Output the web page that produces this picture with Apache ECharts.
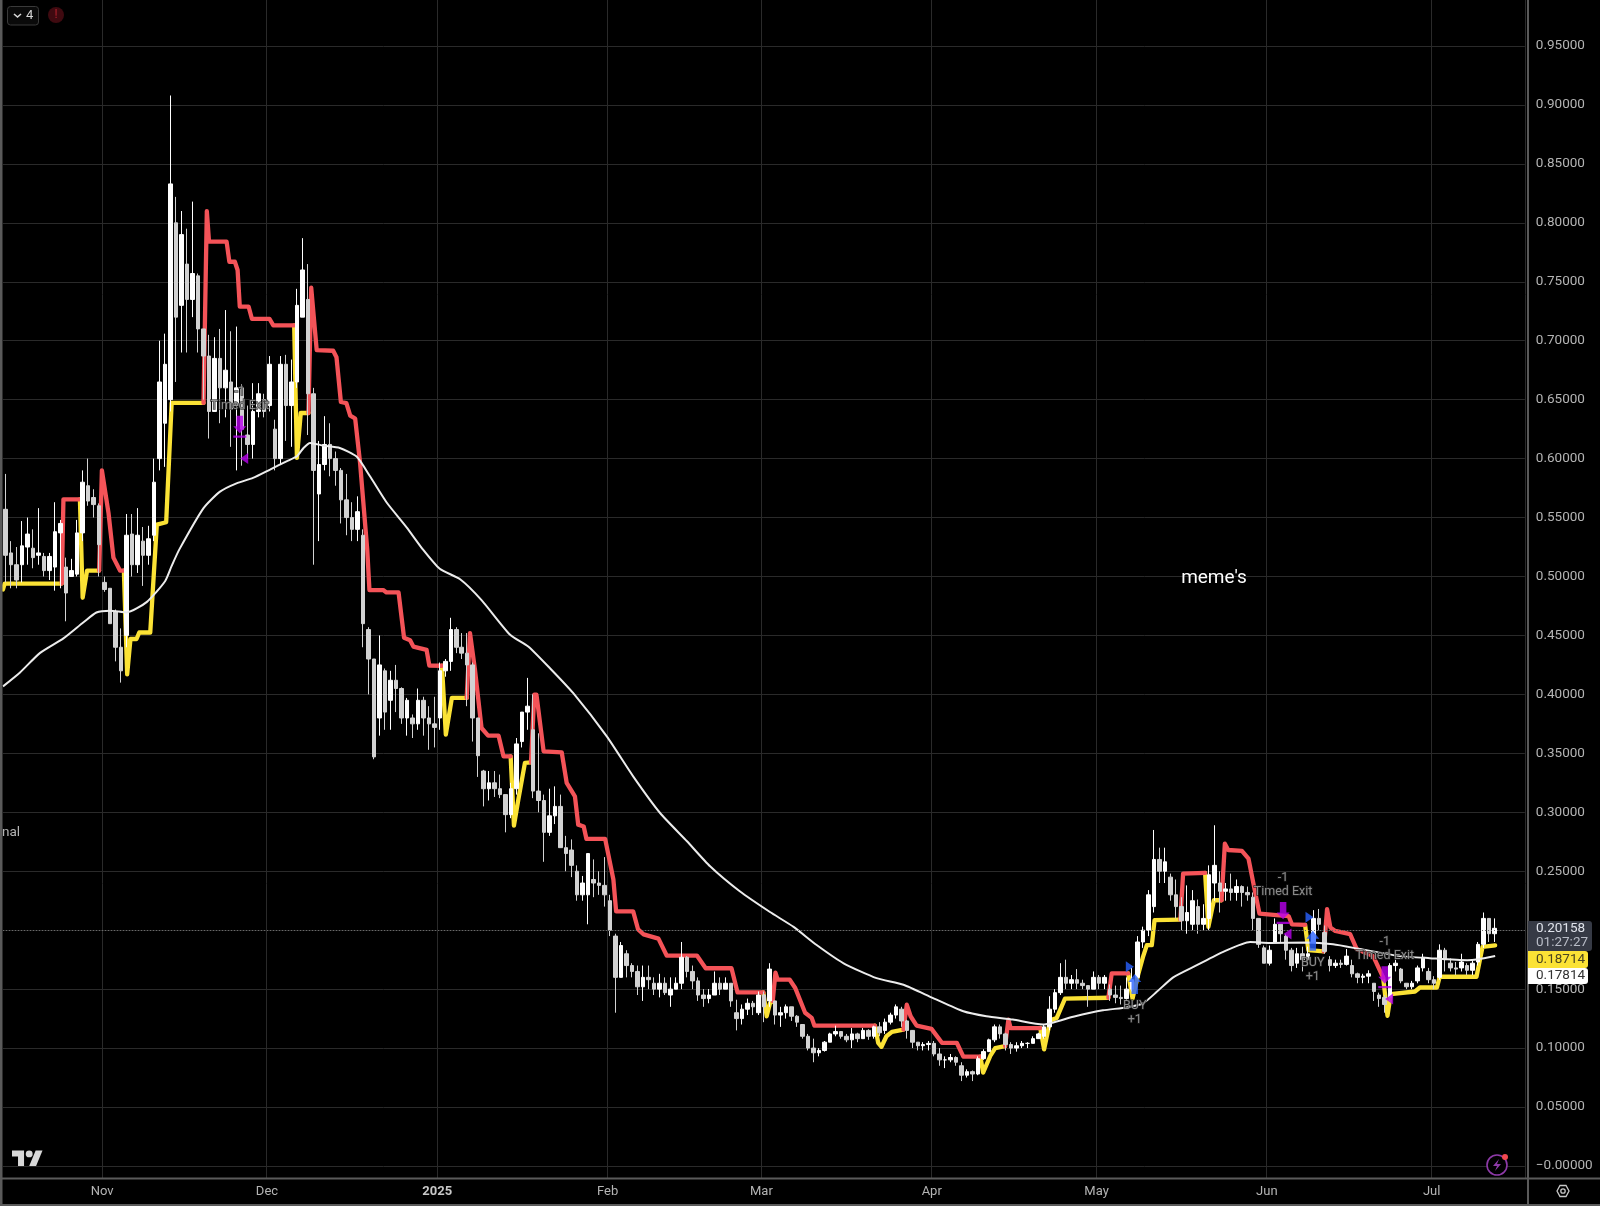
<!DOCTYPE html>
<html><head><meta charset="utf-8">
<style>html,body{margin:0;padding:0;background:#000}#c{width:1600px;height:1206px}</style>
<script src="https://cdn.jsdelivr.net/npm/echarts@6/dist/echarts.min.js"></script>
</head><body><div id="c"></div>
<script>
// tick labels
const tickDays=[18,48,79,110,138,169,199,230,260];
const tickNames=['Nov','Dec','2025','Feb','Mar','Apr','May','Jun','Jul'];
const priceTicks=[0,.05,.1,.15,.2,.25,.3,.35,.4,.45,.5,.55,.6,.65,.7,.75,.8,.85,.9,.95];
const lastPrice=0.20158, countdown='01:27:27', stopValue=0.18714, maValue=0.17814;
// daily candles from 14 Oct: [open, close, low, high]
const candles=[
[.557,.518,.495,.587],[.52,.51,.49,.53],[.51,.497,.49,.525],[.51,.526,.495,.547],[.525,.536,.51,.55],[.524,.516,.507,.54],[.518,.52,.51,.558],[.517,.505,.5,.52],[.505,.517,.497,.52],[.508,.538,.488,.563],
[.537,.545,.49,.548],[.508,.486,.462,.516],[.5,.505,.5,.515],[.502,.537,.5,.548],[.537,.58,.53,.59],[.577,.564,.56,.6],[.567,.561,.55,.574],[.56,.527,.5,.562],[.495,.489,.487,.5],[.49,.46,.46,.49],
[.47,.44,.428,.472],[.44,.42,.41,.456],[.45,.535,.44,.553],[.536,.51,.5,.553],[.51,.535,.503,.558],[.53,.518,.492,.542],[.518,.532,.51,.543],[.535,.58,.53,.6],[.6,.665,.59,.7],[.63,.68,.593,.706],
[.65,.833,.64,.908],[.8,.72,.665,.822],[.73,.79,.69,.81],[.765,.735,.69,.795],[.735,.757,.72,.818],[.755,.71,.69,.757],[.71,.687,.65,.71],[.687,.64,.617,.705],[.64,.685,.64,.703],[.685,.66,.63,.71],
[.66,.675,.635,.726],[.665,.642,.61,.708],[.645,.66,.59,.712],[.66,.625,.594,.663],[.62,.612,.6,.645],[.612,.64,.6,.664],[.64,.655,.635,.664],[.65,.64,.635,.655],[.645,.68,.64,.687],[.625,.6,.59,.633],
[.6,.68,.595,.687],[.68,.645,.615,.688],[.645,.665,.61,.684],[.665,.73,.66,.744],[.72,.76,.72,.787],[.735,.655,.62,.765],[.655,.59,.51,.66],[.57,.595,.53,.615],[.595,.612,.59,.636],[.612,.6,.585,.63],
[.6,.59,.577,.606],[.59,.565,.545,.592],[.565,.55,.535,.587],[.55,.54,.53,.563],[.54,.555,.53,.568],[.535,.46,.44,.54],[.455,.43,.4,.457],[.43,.347,.345,.43],[.38,.425,.365,.45],[.42,.385,.37,.422],
[.395,.412,.37,.42],[.412,.405,.385,.425],[.405,.38,.375,.406],[.38,.395,.365,.397],[.38,.375,.363,.383],[.375,.395,.37,.405],[.395,.38,.365,.398],[.38,.375,.353,.39],[.375,.372,.355,.398],[.38,.42,.37,.427],
[.42,.428,.415,.43],[.428,.455,.42,.465],[.455,.44,.435,.457],[.44,.435,.43,.452],[.435,.425,.39,.452],[.425,.38,.36,.427],[.38,.348,.33,.38],[.335,.32,.305,.336],[.32,.325,.31,.335],[.325,.32,.313,.335],
[.32,.315,.312,.332],[.315,.298,.283,.315],[.298,.32,.295,.325],[.32,.358,.315,.363],[.36,.385,.355,.385],[.385,.39,.37,.414],[.37,.318,.312,.4],[.318,.31,.3,.367],[.31,.283,.258,.315],[.283,.297,.28,.32],
[.297,.305,.29,.322],[.305,.27,.27,.315],[.27,.265,.25,.28],[.268,.255,.245,.277],[.25,.23,.225,.255],[.23,.24,.225,.246],[.23,.265,.205,.265],[.243,.24,.228,.26],[.24,.238,.23,.25],[.238,.23,.22,.262],
[.225,.2,.195,.23],[.195,.16,.13,.197],[.16,.187,.16,.19],[.18,.17,.16,.183],[.17,.165,.16,.172],[.165,.152,.145,.17],[.152,.16,.14,.17],[.16,.158,.15,.17],[.155,.15,.145,.16],[.15,.155,.143,.163],
[.155,.147,.145,.16],[.145,.15,.135,.16],[.15,.155,.15,.16],[.155,.177,.15,.19],[.177,.165,.16,.178],[.165,.157,.15,.17],[.157,.145,.14,.16],[.145,.142,.135,.15],[.142,.145,.138,.15],[.145,.155,.145,.165],
[.155,.15,.145,.16],[.15,.155,.15,.16],[.155,.14,.135,.155],[.13,.125,.115,.141],[.125,.133,.12,.137],[.133,.138,.128,.142],[.138,.135,.128,.14],[.13,.145,.128,.148],[.145,.135,.122,.148],[.14,.167,.135,.172],
[.14,.128,.12,.14],[.128,.13,.118,.135],[.13,.135,.125,.137],[.135,.127,.123,.135],[.127,.122,.118,.128],[.12,.11,.108,.12],[.11,.1,.098,.112],[.1,.096,.088,.108],[.096,.098,.093,.1],[.098,.105,.097,.106],
[.105,.112,.105,.113],[.112,.114,.11,.119],[.114,.11,.108,.113],[.11,.107,.105,.112],[.107,.112,.1,.117],[.112,.108,.105,.113],[.108,.115,.108,.117],[.115,.11,.107,.116],[.11,.118,.108,.119],[.118,.113,.11,.122],
[.115,.122,.112,.125],[.122,.128,.12,.13],[.128,.135,.125,.137],[.133,.123,.118,.135],[.123,.115,.108,.124],[.115,.105,.1,.113],[.105,.102,.098,.105],[.102,.103,.098,.105],[.103,.104,.098,.106],[.104,.095,.093,.106],
[.095,.09,.085,.1],[.09,.09,.083,.093],[.09,.092,.088,.095],[.092,.088,.085,.093],[.085,.077,.072,.088],[.077,.08,.075,.082],[.08,.078,.072,.081],[.078,.091,.077,.093],[.091,.097,.09,.099],[.097,.107,.097,.108],
[.107,.118,.105,.12],[.118,.112,.108,.12],[.112,.103,.098,.113],[.103,.1,.095,.105],[.1,.102,.097,.105],[.102,.104,.1,.106],[.104,.104,.1,.105],[.104,.108,.104,.11],[.108,.112,.108,.113],[.11,.118,.108,.12],
[.118,.133,.115,.144],[.133,.147,.13,.15],[.147,.16,.145,.172],[.16,.155,.15,.175],[.155,.158,.15,.162],[.158,.155,.15,.167],[.155,.153,.15,.158],[.153,.15,.135,.153],[.15,.16,.15,.165],[.16,.155,.15,.162],
[.155,.16,.15,.162],[.15,.145,.14,.154],[.145,.143,.138,.153],[.143,.142,.137,.153],[.142,.15,.14,.16],[.15,.158,.148,.168],[.16,.19,.158,.195],[.19,.2,.185,.203],[.2,.23,.195,.234],[.22,.26,.215,.285],
[.26,.25,.24,.27],[.25,.258,.24,.27],[.245,.23,.225,.248],[.23,.22,.21,.243],[.22,.208,.2,.228],[.208,.215,.197,.238],[.205,.225,.2,.234],[.22,.205,.197,.226],[.205,.21,.2,.222],[.21,.247,.2,.255],
[.24,.255,.225,.289],[.24,.233,.215,.25],[.233,.235,.225,.24],[.235,.232,.225,.248],[.232,.237,.225,.243],[.237,.232,.22,.238],[.232,.23,.225,.237],[.228,.21,.2,.232],[.21,.188,.185,.21],[.185,.172,.172,.187],
[.172,.183,.17,.187],[.19,.205,.19,.21],[.205,.197,.19,.205],[.195,.183,.175,.197],[.183,.17,.165,.185],[.172,.18,.168,.185],[.18,.175,.165,.186],[.175,.18,.17,.186],[.19,.21,.19,.217],[.21,.205,.2,.218],
[.198,.182,.18,.204],[.175,.17,.165,.178],[.17,.172,.168,.175],[.172,.171,.168,.175],[.171,.178,.17,.184],[.17,.163,.16,.175],[.163,.16,.155,.164],[.16,.161,.155,.163],[.161,.163,.155,.166],[.155,.148,.14,.155],
[.145,.142,.135,.147],[.143,.137,.13,.145],[.143,.17,.14,.172],[.17,.172,.165,.175],[.167,.157,.155,.168],[.155,.152,.15,.155],[.152,.155,.15,.157],[.157,.168,.155,.17],[.168,.177,.165,.18],[.165,.158,.155,.168],
[.158,.155,.15,.161],[.16,.183,.158,.188],[.183,.175,.165,.185],[.172,.168,.165,.176],[.168,.167,.162,.173],[.168,.173,.165,.18],[.17,.166,.162,.172],[.166,.172,.162,.175],[.173,.188,.17,.19],[.188,.21,.185,.215],
[.21,.197,.19,.205],[.197,.2016,.19,.21]];
// moving average read as [day, value]
const maLine=[[0,.4068],[3.1,.4186],[6.7,.435],[11,.4475],[14.6,.461],[17,.4695],[19.5,.471],[22.5,.4695],[26.2,.4785],[29.5,.496],[30.7,.509],[32.1,.523],[36.5,.558],[39.5,.572],[42.5,.579],[45.5,.5836],[48.6,.5907],[51.6,.5977],[53.5,.602],[54.7,.609],[55.9,.6133],[58.3,.611],[61.3,.609],[64.4,.6015],[66.8,.585],[69.8,.563],[73.5,.5415],[76.5,.5225],[79.5,.5065],[83.2,.4977],[87.1,.48],[92.3,.4506],[95.6,.4407],[99.6,.422],[103.8,.401],[109.9,.3644],[114.7,.3305],[119.6,.2994],[124.5,.2754],[128.7,.2542],[134.1,.233],[139.6,.2154],[143.9,.2028],[148.1,.1874],[153,.1719],[159,.1593],[163.9,.1537],[169.3,.1424],[174.8,.1312],[179,.127],[183.8,.1242],[189.3,.12],[194.8,.1266],[200.2,.132],[204.5,.1345],[207.5,.1379],[210,.1477],[213,.16],[217.3,.1703],[222.1,.1816],[227,.19],[230.6,.1892],[237.3,.1895],[242.1,.188],[247,.184],[254.3,.178],[259.7,.1763],[266.5,.1746],[268.5,.1754],[271.6,.17814]];
// stop line, up-trend (yellow) and down-trend (red) stretches as [day, value]
const yellowParts=[
[[0,.489],[.3,.494],[10.7,.494]],
[[14,.5655],[14.5,.482],[15.3,.505],[17.5,.505]],
[[22,.505],[22.6,.417],[23.2,.447],[24.3,.447],[24.8,.4525],[26.8,.4525],[28,.544],[29.7,.546],[30.7,.6472],[36.5,.6472]],
[[53,.713],[53.5,.6006],[54.2,.6387],[55.6,.6387]],
[[79.9,.4243],[80.6,.3658],[81.7,.397],[84.4,.397]],
[[92.4,.3475],[93,.2887],[93.8,.3107],[95,.342],[96.1,.3424]],
[[138.4,.1472],[139,.127],[139.6,.138],[140.1,.14]],
[[158.7,.119],[159.3,.1045],[159.9,.1011],[160.8,.11],[161.8,.1138],[163.9,.1157]],
[[177.9,.0927],[178.4,.0792],[179.7,.0933],[180.6,.1],[182.4,.1017]],
[[188.8,.117],[189.5,.0989],[190.6,.1235],[191.8,.1256],[193.3,.142],[201.2,.1427]],
[[204.8,.1633],[205.6,.142],[206.6,.162],[207.5,.1774],[208.2,.1873],[209.1,.1873],[209.6,.2085],[214.3,.209]],
[[218.8,.2486],[219.4,.2028],[220.4,.2254],[221.8,.2254]],
[[237,.2045],[237.6,.183],[240.4,.182]],
[[251.2,.16],[252,.1274],[252.6,.1458],[257,.148],[257.9,.1514],[261,.1514],[261.5,.1605],[268.2,.1605],[269.3,.1859],[271.6,.18714]]];
const redParts=[
[[10.7,.494],[11,.5655],[13.9,.5655],[14,.5655]],
[[17.5,.505],[18,.59],[19.2,.554],[20.1,.516],[21.3,.505],[22,.505]],
[[36.5,.6472],[37.1,.81],[37.5,.784],[40.7,.784],[41.2,.767],[42.2,.767],[42.7,.76],[43.1,.729],[44.7,.729],[45.3,.7186],[48.5,.7186],[49.2,.713],[53,.713]],
[[55.6,.6387],[56.1,.745],[57.1,.692],[60.1,.6915],[60.7,.686],[61.5,.648],[62.5,.647],[63.2,.6365],[64.1,.634],[65,.596],[66.3,.5225],[66.7,.4885],[69.2,.4885],[69.8,.4865],[72,.4865],[73,.448],[74.1,.446],[74.7,.4405],[77.1,.4378],[77.6,.4245],[79.9,.4243]],
[[84.4,.397],[85,.452],[85.9,.421],[87.1,.3715],[88.3,.365],[90.2,.365],[91.1,.3475],[92.4,.3475]],
[[96.1,.3424],[96.7,.3997],[97.1,.3997],[98.4,.3517],[101.7,.3508],[102.6,.3249],[104.1,.3136],[104.7,.2895],[105.7,.288],[106.2,.2774],[109.6,.2774],[111.1,.243],[111.6,.216],[114.7,.216],[115.6,.2006],[116.6,.1965],[119.3,.1928],[120.8,.1785],[126.3,.1785],[127.9,.1677],[132.6,.1677],[133.7,.1472],[138.4,.1472]],
[[140.1,.14],[140.6,.164],[141,.158],[143.2,.158],[144.2,.151],[146,.13],[147.2,.1256],[147.7,.119],[158.7,.119]],
[[163.9,.1157],[164.5,.1368],[165.2,.127],[166.3,.119],[169,.1163],[170.9,.1045],[173.6,.1045],[174.8,.0927],[177.9,.0927]],
[[182.4,.1017],[183,.1242],[183.4,.117],[188.8,.117]],
[[201.2,.1427],[201.8,.1633],[204.8,.1633]],
[[214.3,.209],[214.8,.248],[218.8,.2486]],
[[221.8,.2254],[222.4,.2734],[223,.268],[225.5,.2672],[226.7,.2607],[227.6,.2395],[228.7,.214],[231.8,.2127],[234,.212],[234.6,.205],[237,.2045]],
[[240.4,.182],[241,.2178],[241.6,.2023],[242.5,.1994],[245.2,.1966],[246.4,.184],[249.4,.178],[251.2,.16]]];
// strategy signals [day, value]
const exitArrows=[[43.1,.627],[233,.2146],[251.5,.16]];
const exitMarks=[[43.9,.6],[233.8,.1968],[252.3,.1416]];
const buyArrows=[[206,.1544],[238.4,.191]];
const buyMarks=[[205.1,.169],[237.8,.211]];

const RED='#f45358',YEL='#fbe235';
const totalDays=277;
const categories=[];
for(let i=0;i<totalDays;i++){const d=new Date(Date.UTC(2024,9,14+i));categories.push(d.toISOString().slice(0,10));}
const stopSeries=(parts,color)=>parts.map(p=>({type:'line',xAxisIndex:1,data:p,showSymbol:false,z:2,silent:true,
  lineStyle:{color,width:4.3,cap:'round',join:'round'}}));
const arrowDown='path://M3,0H9V9H12L6,15L0,9H3Z M0,17H12V19H0Z', arrowUp='path://M6,0L12,8H9V20H3V8H0Z';
const chart=echarts.init(document.getElementById('c'),null,{renderer:'canvas'});
const GRID='#2a2a2a', LBL='#b4b4b4', FONT='Roboto, sans-serif', EDGE='#5a5a5a';
const rect=(x,y,w,h,fill,z=50)=>({type:'rect',shape:{x,y,width:w,height:h},style:{fill},z,silent:true});
const txt=(x,y,text,fill,size,extra={})=>({type:'text',x,y,z:60,silent:true,style:Object.assign({text,fill,font:`${size}px ${FONT}`,textVerticalAlign:'middle'},extra)});
const sigLabel={color:'#a8a8a8',fontFamily:FONT,fontSize:12.5,lineHeight:14,align:'center',textBorderColor:'#1c1c1c',textBorderWidth:1.5};
chart.setOption({
 animation:false,backgroundColor:'#000',
 grid:{left:3,top:0,width:totalDays*5.494,height:1178,containLabel:false},
 xAxis:[{type:'category',data:categories,boundaryGap:true,axisLine:{show:false},axisTick:{show:false},
   splitLine:{show:true,interval:i=>tickDays.includes(i),lineStyle:{color:GRID,width:1}},
   axisLabel:{interval:i=>tickDays.includes(i),
     formatter:(v,i)=>{const n=tickNames[tickDays.indexOf(i)]||'';return n==='2025'?'{y|2025}':n;},
     rich:{y:{fontWeight:'bold',color:'#c8c8c8',fontFamily:FONT,fontSize:13}},
     color:LBL,fontFamily:FONT,fontSize:13,margin:7,padding:[0,5,0,0],hideOverlap:false}},
  {type:'value',min:0,max:totalDays,show:false,splitLine:{show:false}}],
 yAxis:{type:'value',position:'right',min:-0.0102,max:0.989,offset:2,axisLine:{show:false},
   axisTick:{show:false,customValues:priceTicks},
   splitLine:{show:true,lineStyle:{color:GRID,width:1}},
   axisLabel:{customValues:priceTicks,color:LBL,fontFamily:FONT,fontSize:13.5,margin:9,align:'left',padding:[2,0,0,0],
     formatter:v=>(Math.abs(v)<1e-9?'\u22120.00000':v.toFixed(5))}},
 series:[
  ...stopSeries(yellowParts,YEL),
  ...stopSeries(redParts,RED),
  {type:'candlestick',data:candles,barWidth:4,z:3,silent:true,large:false,progressive:0,
   itemStyle:{color:'#ffffff',color0:'#d2d2d2',borderColor:'#ffffff',borderColor0:'#d2d2d2',borderWidth:1},
   markLine:{silent:true,symbol:'none',label:{show:false},lineStyle:{type:[1,2],color:'#6a6a6a',width:1},data:[{yAxis:lastPrice}],animation:false}},
  {type:'line',xAxisIndex:1,data:maLine,showSymbol:false,smooth:0.2,z:4,silent:true,lineStyle:{color:'#ececec',width:2}},
  {type:'scatter',xAxisIndex:1,data:exitArrows,symbol:arrowDown,symbolSize:[13,22],z:6,silent:true,itemStyle:{color:'#b800ee'},
    label:Object.assign({show:true,position:'top',distance:3,formatter:'-1\nTimed Exit'},sigLabel)},
  {type:'scatter',xAxisIndex:1,data:exitMarks,symbol:'triangle',symbolSize:[11,8],symbolRotate:90,z:6,silent:true,itemStyle:{color:'#b800ee'}},
  {type:'scatter',xAxisIndex:1,data:buyArrows,symbol:arrowUp,symbolSize:[13,20],z:6,silent:true,itemStyle:{color:'#2962ff'},
    label:Object.assign({show:true,position:'bottom',distance:5,formatter:'BUY\n+1'},sigLabel)},
  {type:'scatter',xAxisIndex:1,data:buyMarks,symbol:'triangle',symbolSize:[11,8],symbolRotate:-90,z:6,silent:true,itemStyle:{color:'#2962ff'}}
 ],
 graphic:[
  rect(0,0,2.5,1206,EDGE), rect(1527,0,2,1206,EDGE), rect(0,1177.5,1600,2,EDGE), rect(0,1204,1600,2,EDGE),
  // top-left pill
  {type:'rect',shape:{x:7.5,y:6.5,width:31,height:18.5,r:3},style:{fill:'#0a0a0a',stroke:'#3a3a3a',lineWidth:1},z:50,silent:true},
  {type:'polyline',shape:{points:[[14,14],[17.5,17],[21,14]]},style:{stroke:'#d8d8d8',lineWidth:1.6,fill:null},z:60,silent:true},
  txt(26,16,'4','#d8d8d8',13),
  {type:'circle',shape:{cx:56,cy:15,r:8},style:{fill:'#3f0a10'},z:50,silent:true},
  txt(56,15,'!','#b3202c',12,{textAlign:'center'}),
  // free texts
  txt(1214,578,"meme's",'#ffffff',19,{textAlign:'center'}),
  txt(2,833,'nal','#b4b4b4',13.5),
  // TradingView mark
  {type:'polygon',x:12,y:1147,scaleX:.86,scaleY:.86,shape:{points:[[0,4],[14,4],[14,22],[7,22],[7,11],[0,11]]},style:{fill:'#d8d8d8'},z:50,silent:true},
  {type:'polygon',x:12,y:1147,scaleX:.86,scaleY:.86,shape:{points:[[20,22],[27.5,4],[35.5,4],[28,22]]},style:{fill:'#d8d8d8'},z:50,silent:true},
  {type:'circle',x:12,y:1147,scaleX:.86,scaleY:.86,shape:{cx:20,cy:8,r:4},style:{fill:'#d8d8d8'},z:50,silent:true},
  // bolt badge
  {type:'circle',shape:{cx:1497,cy:1165,r:10},style:{fill:'#000',stroke:'#8e3aa8',lineWidth:1.6},z:50,silent:true},
  {type:'polygon',shape:{points:[[1499,1159],[1493,1166],[1497,1166],[1495,1171],[1501,1164],[1497,1164]]},style:{fill:'#8e3aa8'},z:51,silent:true},
  {type:'circle',shape:{cx:1505,cy:1157,r:3},style:{fill:'#f0484f'},z:52,silent:true},
  // settings gear
  {type:'polygon',shape:{points:[[1557,1191],[1560,1185.5],[1566,1185.5],[1569,1191],[1566,1196.5],[1560,1196.5]]},style:{fill:null,stroke:'#c8c8c8',lineWidth:1.3},z:50,silent:true},
  {type:'circle',shape:{cx:1563,cy:1191,r:2.2},style:{fill:null,stroke:'#c8c8c8',lineWidth:1.3},z:50,silent:true},
  // price tags
  {type:'rect',shape:{x:1528,y:921,width:64,height:30,r:[0,3,3,0]},style:{fill:'#363a45'},z:55,silent:true},
  txt(1536,929,lastPrice.toFixed(5),'#e0e3eb',13.5),
  txt(1536,943,countdown,'#b8bcc6',13.5),
  {type:'rect',shape:{x:1528,y:951,width:60,height:17,r:[0,3,3,0]},style:{fill:YEL},z:56,silent:true},
  txt(1536,960,stopValue.toFixed(5),'#4a4420',13.5),
  {type:'rect',shape:{x:1528,y:968,width:60,height:16,r:[0,3,3,0]},style:{fill:'#ffffff'},z:56,silent:true},
  txt(1536,976,maValue.toFixed(5),'#333333',13.5)
 ]
});
</script></body></html>
